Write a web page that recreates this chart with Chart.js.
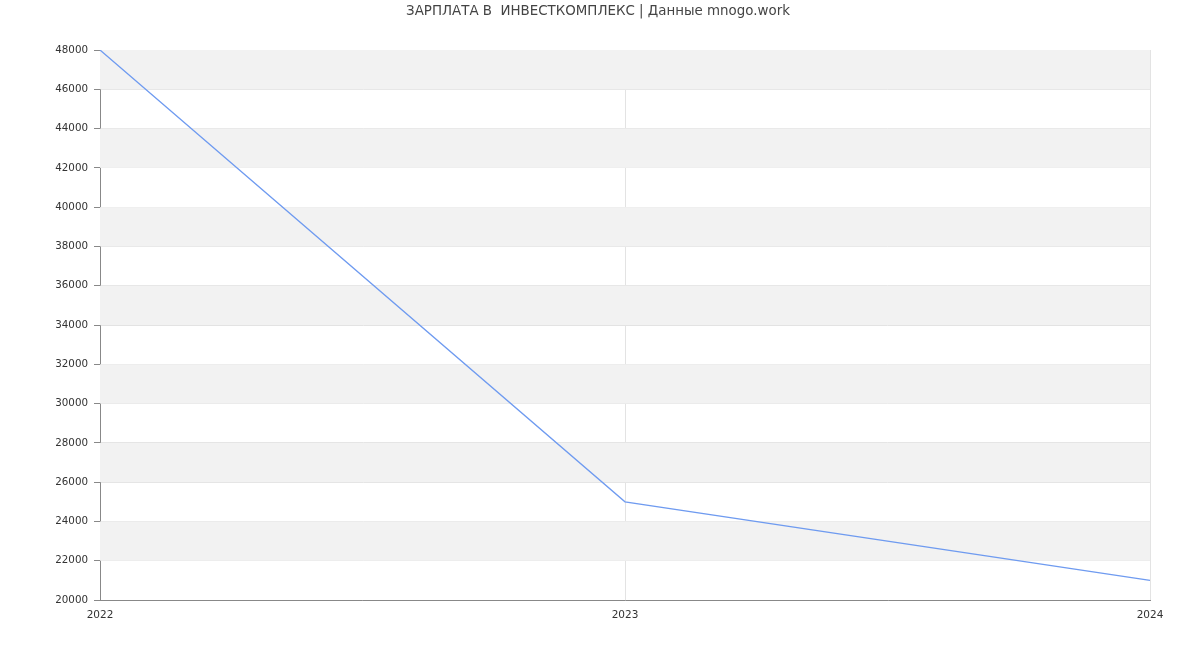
<!DOCTYPE html>
<html>
<head>
<meta charset="utf-8">
<script src="https://cdn.jsdelivr.net/npm/chart.js@4/dist/chart.umd.min.js"></script>
<style>
html,body{margin:0;padding:0;background:#fff;}
#wrap{width:1200px;height:650px;}
</style>
</head>
<body>
<div id="wrap"><canvas id="c" width="1200" height="650"></canvas></div>
<script>
const titleText = "ЗАРПЛАТА В  ИНВЕСТКОМПЛЕКС | Данные mnogo.work";
const categories = ["2022", "2023", "2024"];
const salaryValues = [48000, 25000, 21000];
const yMin = 20000, yMax = 48000, yStep = 2000;

const FONT = "'DejaVu Sans', sans-serif";

const bandsPlugin = {
  id: 'bands',
  beforeDatasetsDraw(chart) {
    const {ctx, chartArea, scales} = chart;
    const y = scales.y;
    ctx.save();
    ctx.fillStyle = '#f2f2f2';
    let i = 0;
    for (let v = yMin; v < yMax; v += yStep, i++) {
      if (i % 2 === 1) {
        const top = y.getPixelForValue(v + yStep);
        const bot = y.getPixelForValue(v);
        ctx.fillRect(chartArea.left, top, chartArea.right - chartArea.left, bot - top);
      }
    }
    ctx.restore();
  }
};

const titlePlugin = {
  id: 'customTitle',
  afterDraw(chart) {
    const ctx = chart.ctx;
    ctx.save();
    ctx.font = "13.4px " + FONT;
    ctx.fillStyle = '#444';
    ctx.textAlign = 'center';
    ctx.textBaseline = 'middle';
    ctx.fillText(titleText, 598, 12);
    ctx.restore();
  }
};

new Chart(document.getElementById('c'), {
  type: 'line',
  data: {
    labels: categories,
    datasets: [{
      data: salaryValues,
      borderColor: '#6f9bf0',
      borderWidth: 1.3,
      pointRadius: 0,
      fill: false,
      tension: 0
    }]
  },
  options: {
    responsive: false,
    animation: false,
    layout: { padding: { top: 50, right: 50, left: 0, bottom: 0 } },
    plugins: { legend: { display: false }, title: { display: false }, tooltip: { enabled: false } },
    scales: {
      x: {
        offset: false,
        grid: { color: '#e3e3e3', drawTicks: false, lineWidth: 1 },
        border: { color: '#888', width: 1 },
        ticks: { color: '#333', font: { family: FONT, size: 10.5 }, padding: 9, maxRotation: 0 },
        afterFit(s) { s.height = 50; }
      },
      y: {
        min: yMin, max: yMax,
        grid: { color: '#e3e3e3', tickLength: 6, tickColor: '#888' },
        border: { color: '#888', width: 1 },
        ticks: { stepSize: yStep, color: '#333', font: { family: FONT, size: 10.3 }, padding: 6,
          callback: (v) => String(v) },
        afterFit(s) { s.width = 100; }
      }
    }
  },
  plugins: [bandsPlugin, titlePlugin]
});
</script>
</body>
</html>
